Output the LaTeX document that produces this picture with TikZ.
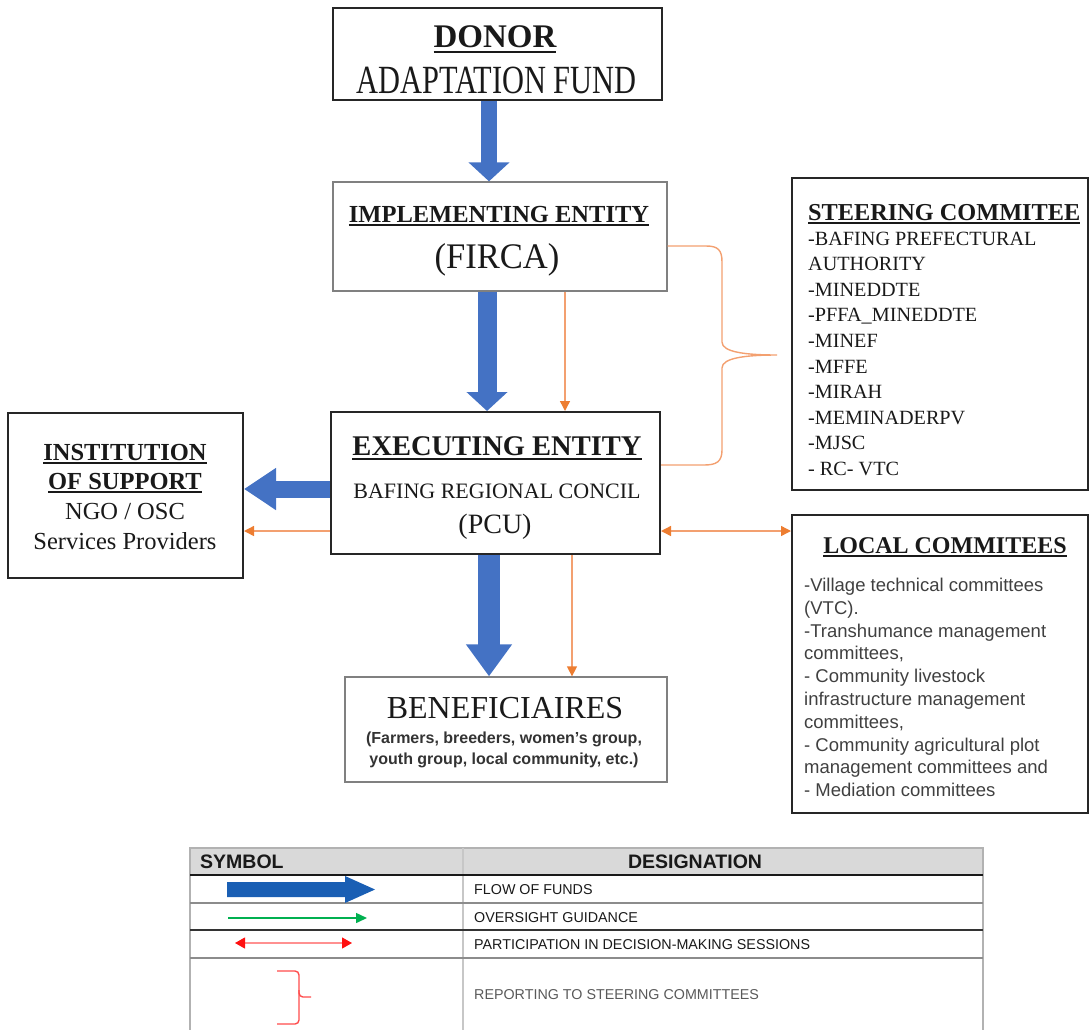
\documentclass[tikz,border=0pt]{standalone}
\usepackage{fontspec}
\setmainfont{Liberation Serif}
\setsansfont{Liberation Sans}
\usepackage{graphicx}
\usetikzlibrary{arrows.meta}
\definecolor{blueA}{HTML}{4472C4}
\definecolor{blueL}{HTML}{1A5FB4}
\definecolor{orangeA}{HTML}{ED7D31}
\definecolor{orangeL}{HTML}{F3A070}
\definecolor{greenA}{HTML}{00B050}
\definecolor{redA}{HTML}{FF1010}
\definecolor{redL}{HTML}{FF9090}
\definecolor{hdr}{HTML}{D9D9D9}
\newcommand\fsz[1]{\fontsize{#1}{#1}\selectfont}
\newcommand\myul[3]{\setbox0\hbox{#3}\rlap{\rule[#1]{\wd0}{#2}}\box0}
\begin{document}
\begin{tikzpicture}[x=1pt,y=-1pt,
  boxA/.style={draw=black!85, line width=2pt, inner sep=0pt, rectangle},
  boxB/.style={draw=black!50, line width=1.3pt, inner sep=0pt, rectangle},
  txt/.style={inner sep=0pt, anchor=base, text=black!90},
  txtl/.style={inner sep=0pt, anchor=base west, text=black!90},
  orangearrow/.style={draw=orangeL, line width=1.4pt, -{Triangle[length=10pt,width=10pt,color=orangeA]}},
  orangeboth/.style={draw=orangeL, line width=1.4pt, {Triangle[length=10pt,width=10pt,color=orangeA]}-{Triangle[length=10pt,width=10pt,color=orangeA]}},
]
\useasboundingbox (0,0) rectangle (1090,1029);

% ---------- boxes ----------
\node[boxA, minimum width=329pt, minimum height=92pt]  (donor) at (497.5,54) {};
\node[boxB, minimum width=334pt, minimum height=109pt] (impl)  at (500,236.5) {};
\node[boxA, minimum width=329pt, minimum height=142pt] (exec)  at (495.5,483) {};
\node[boxA, minimum width=235pt, minimum height=165pt] (inst)  at (125.5,495.5) {};
\node[boxA, minimum width=296pt, minimum height=312pt] (steer) at (940,334) {};
\node[boxA, minimum width=296pt, minimum height=298pt] (local) at (940,664) {};
\node[boxB, minimum width=322pt, minimum height=105pt] (ben)   at (506,729.5) {};

% ---------- texts ----------
\node[txt, font=\fsz{33}\bfseries] (donorT1) at (495,47) {\myul{-6pt}{2pt}{DONOR}};
\node[txt, font=\fsz{40}] (donorT2) at (496.5,93) {\scalebox{0.76}[1]{ADAPTATION FUND}};
\node[txt, font=\fsz{24.5}\bfseries] (implT1) at (499,222) {\myul{-4pt}{1.6pt}{IMPLEMENTING ENTITY}};
\node[txt, font=\fsz{36}] (implT2) at (497,268) {\scalebox{0.96}[1]{(FIRCA)}};
\node[txt, font=\fsz{28.5}\bfseries] (execT1) at (497,455) {\myul{-5pt}{2pt}{EXECUTING ENTITY}};
\node[txt, font=\fsz{22}] (execT2) at (497,498) {BAFING REGIONAL CONCIL};
\node[txt, font=\fsz{28}] (execT3) at (495,533) {(PCU)};

\node[txt, font=\fsz{24.5}\bfseries] (instT1) at (125,460) {\myul{-4pt}{1.6pt}{INSTITUTION}};
\node[txt, font=\fsz{24.5}\bfseries] (instT2) at (125,489) {\myul{-4pt}{1.6pt}{OF SUPPORT}};
\node[txt, font=\fsz{24.5}] (instT3) at (125,519) {NGO / OSC};
\node[txt, font=\fsz{24.5}] (instT4) at (125,549) {Services Providers};

\node[txtl, font=\fsz{24.3}\bfseries] (stT0) at (808,220) {\myul{-4pt}{1.6pt}{STEERING COMMITEE}};
\foreach \t [count=\k from 0] in {-BAFING PREFECTURAL, AUTHORITY, -MINEDDTE, -PFFA\_MINEDDTE, -MINEF, -MFFE, -MIRAH, -MEMINADERPV, -MJSC, - RC- VTC}
  \node[txtl, font=\fsz{20.2}] (stT\k x) at (808,245+25.6*\k) {\t};

\node[txt, font=\fsz{24}\bfseries] (locT0) at (945,553) {\myul{-4pt}{1.6pt}{LOCAL COMMITEES}};
\foreach \t [count=\k from 0] in {-Village technical committees, (VTC)., -Transhumance management, {committees,}, - Community livestock, infrastructure management, {committees,}, - Community agricultural plot, management committees and, - Mediation committees}
  \node[txtl, font=\sffamily\fsz{18.5}, text=black!75] (locT\k x) at (804,591.5+22.8*\k) {\t};

\node[txt, font=\fsz{32}] (benT1) at (505,718) {BENEFICIAIRES};
\node[txt, font=\sffamily\bfseries\fsz{16}, text=black!80] (benT2) at (504,743) {(Farmers, breeders, women's group,};
\node[txt, font=\sffamily\bfseries\fsz{16}, text=black!80] (benT3) at (504,764) {youth group, local community, etc.)};

% ---------- blue flow arrows ----------
\draw[blueA, line width=16pt, -{Triangle[length=19pt,width=40pt,color=blueA]}]
  ([xshift=-8.5pt]donor.south) -- ([xshift=-8.5pt]donor.south |- impl.north);
\draw[blueA, line width=19pt, -{Triangle[length=19pt,width=40pt,color=blueA]}]
  ([xshift=-13pt]impl.south) -- ([xshift=-13pt]impl.south |- exec.north);
\draw[blueA, line width=22pt, -{Triangle[length=32pt,width=44pt,color=blueA]}]
  ([xshift=-6.5pt]exec.south) -- ([xshift=-6.5pt]exec.south |- ben.north);
\draw[blueA, line width=17pt, -{Triangle[length=32pt,width=40pt,color=blueA]}]
  ([yshift=-6pt]exec.west) -- ([yshift=-6pt]exec.west -| inst.east);

% ---------- orange arrows ----------
\draw[orangearrow] ([xshift=65pt]impl.south) -- ([xshift=65pt]impl.south |- exec.north);
\draw[orangearrow] ([yshift=-48pt]exec.west) -- ([yshift=-48pt]exec.west -| inst.east);
\draw[orangeboth] ([yshift=-48pt]exec.east) -- ([yshift=-48pt]exec.east -| local.west);
\draw[orangearrow] ([xshift=76.5pt]exec.south) -- ([xshift=76.5pt]exec.south |- ben.north);

% ---------- brace (reporting to steering committee) ----------
\coordinate (bt) at (777,355);
\draw[orangeL, line width=1.4pt]
  ([yshift=-9.5pt]impl.east) -- (706,246) .. controls (718,246) and (722,250) .. (722,262)
  -- (722,342) .. controls (722,352) and (745,355) .. (bt)
  .. controls (745,355) and (722,358) .. (722,368)
  -- (722,450) .. controls (722,462) and (716,465) .. (704,465) -- ([yshift=18pt]exec.east);

% ---------- legend table ----------
\fill[hdr] (190,848) rectangle (983,875);
\draw[black!30, line width=1.2pt] (190,848) rectangle (983,1040);
\draw[black!22, line width=2.5pt] (463,848) -- (463,1040);
\draw[black!90, line width=2pt] (190,875) -- (983,875);
\draw[black!45, line width=1.2pt] (190,903) -- (983,903);
\draw[black!80, line width=2pt] (190,930) -- (983,930);
\draw[black!45, line width=1.2pt] (190,958) -- (983,958);

\node[txtl, font=\sffamily\bfseries\fsz{19.5}] (lgS) at (200,868) {SYMBOL};
\node[txt, font=\sffamily\bfseries\fsz{19.5}] (lgD) at (695,868) {DESIGNATION};
\node[txtl, font=\sffamily\fsz{14.3}] (lg1) at (474,894) {FLOW OF FUNDS};
\node[txtl, font=\sffamily\fsz{14.3}] (lg2) at (474,922) {OVERSIGHT GUIDANCE};
\node[txtl, font=\sffamily\fsz{14.3}] (lg3) at (474,949) {PARTICIPATION IN DECISION-MAKING SESSIONS};
\node[txtl, font=\sffamily\fsz{14.3}, text=black!65] (lg4) at (474,999) {REPORTING TO STEERING COMMITTEES};

\fill[blueL] (227,882) -- (345,882) -- (345,876) -- (375,889.5) -- (345,903) -- (345,897) -- (227,897) -- cycle;
\draw[greenA, line width=1.5pt, -{Triangle[length=11pt,width=10pt]}] (228,918) -- (367,918);
\draw[redL, line width=1.2pt, {Triangle[length=10pt,width=11pt,color=redA]}-{Triangle[length=10pt,width=11pt,color=redA]}] (235,943) -- (352,943);
\draw[redA!75, line width=1.4pt, rounded corners=4pt] (277,971) -- (299,971) -- (299,997) -- (311,997);
\draw[redA!75, line width=1.4pt, rounded corners=4pt] (299,990) -- (299,1024) -- (277,1024);
\end{tikzpicture}
\end{document}
